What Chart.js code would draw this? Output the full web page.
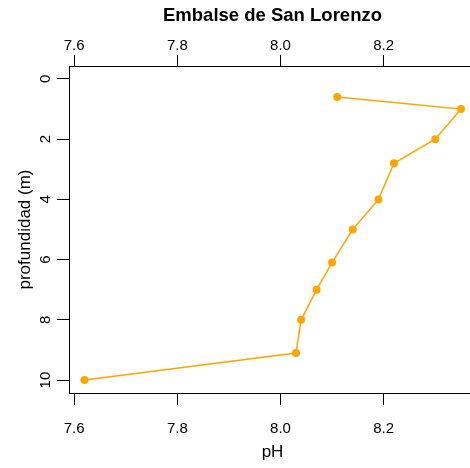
<!DOCTYPE html>
<html>
<head>
<meta charset="utf-8">
<script src="https://cdn.jsdelivr.net/npm/chart.js@4"></script>
<style>
  html, body { margin: 0; padding: 0; background: #fff; overflow: hidden; }
</style>
</head>
<body>
<!-- canvas is a little wider than the window: the right edge of the box is cut off, as in the original -->
<canvas id="phChart" width="480" height="468"></canvas>
<script>
// pH against depth
const ph = [8.11, 8.35, 8.30, 8.22, 8.19, 8.14, 8.10, 8.07, 8.04, 8.03, 7.62];
const depth = [0.6, 1.0, 2.0, 2.8, 4.0, 5.0, 6.1, 7.0, 8.0, 9.1, 10.0];
const phTicks = [7.6, 7.8, 8.0, 8.2];
const depthTicks = [0, 2, 4, 6, 8, 10];

const FONT = "'Liberation Sans', Arial, sans-serif";
Chart.defaults.font.family = FONT;
Chart.defaults.color = '#000';

// force the tick positions to the listed values
const useTicks = values => scale => { scale.ticks = values.map(v => ({ value: v })); };

const tickFont = { family: FONT, size: 15 };
const labelFont = { family: FONT, size: 17 };

const ctx = document.getElementById('phChart').getContext('2d');
const phChart = new Chart(ctx, {
    type: 'scatter',
    data: {
        datasets: [{
            label: 'pH',
            data: ph.map((v, i) => ({ x: v, y: depth[i] })),
            showLine: true,
            borderColor: '#FFA500',
            backgroundColor: '#FFA500',
            borderWidth: 1.5,
            pointRadius: 4,
            pointHoverRadius: 4,
            pointBorderWidth: 0,
            xAxisID: 'x',
            yAxisID: 'y'
        }]
    },
    options: {
        responsive: false,
        animation: false,
        layout: { padding: 0 },
        plugins: {
            legend: { display: false },
            tooltip: { enabled: false },
            title: {
                display: true,
                text: 'Embalse de San Lorenzo',
                fullSize: false,
                color: '#000',
                font: { family: FONT, size: 18.5, weight: 'bold' },
                padding: { top: 5, bottom: 0 }
            }
        },
        scales: {
            x: {
                type: 'linear',
                position: 'bottom',
                min: 7.59,
                max: 8.379,
                afterBuildTicks: useTicks(phTicks),
                afterFit: s => { s.height = 75; },
                grid: { drawOnChartArea: false, tickLength: 12, color: '#000' },
                border: { color: '#000', width: 1 },
                ticks: { font: tickFont, color: '#000', padding: 14.5, autoSkip: false, maxRotation: 0,
                    callback: v => v.toFixed(1) },
                title: { display: true, text: 'pH', color: '#000', font: labelFont,
                    padding: { top: 0, bottom: 5.8 } }
            },
            x2: {
                type: 'linear',
                axis: 'x',
                position: 'top',
                min: 7.59,
                max: 8.379,
                afterBuildTicks: useTicks(phTicks),
                afterFit: s => { s.height = 38.8; },
                grid: { drawOnChartArea: false, tickLength: 11, color: '#000' },
                border: { color: '#000', width: 1 },
                ticks: { font: tickFont, color: '#000', padding: 0.5, autoSkip: false, maxRotation: 0,
                    callback: v => v.toFixed(1) }
            },
            y: {
                type: 'linear',
                position: 'left',
                reverse: true,
                min: -0.43,
                max: 10.43,
                afterBuildTicks: useTicks(depthTicks),
                afterFit: s => { s.width = 69; },
                grid: { drawOnChartArea: false, tickLength: 12, color: '#000' },
                border: { color: '#000', width: 1 },
                ticks: { font: tickFont, color: '#000', padding: 3.2, autoSkip: false,
                    minRotation: 90, maxRotation: 90, crossAlign: 'center',
                    callback: v => String(v) },
                title: { display: true, text: 'profundidad (m)', color: '#000', font: labelFont,
                    padding: { top: 14.8, bottom: 0 } }
            }
        }
    }
});
</script>
</body>
</html>
